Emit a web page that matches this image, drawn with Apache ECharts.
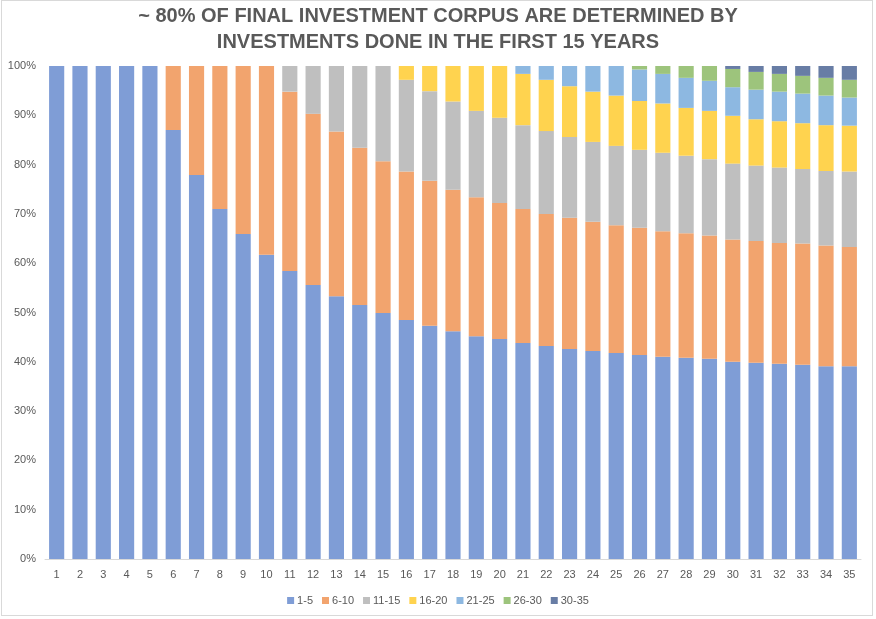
<!DOCTYPE html>
<html>
<head>
<meta charset="utf-8">
<script src="https://cdn.jsdelivr.net/npm/echarts@6/dist/echarts.min.js"></script>
<style>
html,body{margin:0;padding:0;background:#fff;}
#wrap{position:absolute;left:1px;top:0;width:872px;height:616px;border:1px solid #D9D9D9;box-sizing:border-box;}
#chart{position:absolute;left:0;top:0;width:876px;height:619px;}
</style>
</head>
<body>
<div id="wrap"></div>
<div id="chart"></div>
<script>
const years = ['1','2','3','4','5','6','7','8','9','10','11','12','13','14','15','16','17','18','19','20','21','22','23','24','25','26','27','28','29','30','31','32','33','34','35'];
const seriesNames = ['1-5','6-10','11-15','16-20','21-25','26-30','30-35'];
const s1_5   = [100,100,100,100,100,87.0,77.9,71.0,65.9,61.7,58.4,55.6,53.3,51.5,49.9,48.5,47.3,46.2,45.2,44.6,43.8,43.2,42.6,42.2,41.8,41.4,41.0,40.8,40.6,40.0,39.8,39.6,39.4,39.1,39.1];
const s6_10  = [0,0,0,0,0,13.0,22.1,29.0,34.1,38.3,36.4,34.7,33.4,31.9,30.8,30.1,29.4,28.7,28.2,27.6,27.2,26.8,26.6,26.2,25.9,25.8,25.5,25.3,25.0,24.8,24.7,24.5,24.6,24.5,24.2];
const s11_15 = [0,0,0,0,0,0,0,0,0,0,5.2,9.7,13.3,16.6,19.3,18.6,18.2,17.9,17.5,17.3,17.0,16.8,16.4,16.2,16.1,15.8,15.9,15.7,15.5,15.4,15.3,15.3,15.1,15.1,15.3];
const s16_20 = [0,0,0,0,0,0,0,0,0,0,0,0,0,0,0,2.8,5.1,7.2,9.1,10.5,10.4,10.4,10.3,10.2,10.2,9.9,10.0,9.7,9.8,9.7,9.4,9.4,9.3,9.3,9.3];
const s21_25 = [0,0,0,0,0,0,0,0,0,0,0,0,0,0,0,0,0,0,0,0,1.6,2.8,4.1,5.2,6.0,6.4,6.0,6.1,6.1,5.8,6.0,6.0,6.0,6.0,5.7];
const s26_30 = [0,0,0,0,0,0,0,0,0,0,0,0,0,0,0,0,0,0,0,0,0,0,0,0,0,0.7,1.6,2.4,3.0,3.7,3.6,3.6,3.6,3.6,3.6];
const s30_35 = [0,0,0,0,0,0,0,0,0,0,0,0,0,0,0,0,0,0,0,0,0,0,0,0,0,0,0,0,0,0.6,1.2,1.6,2.0,2.4,2.8];
const colors = ['#7F9DD6','#F2A46E','#BFBFBF','#FFD34F','#8DB8E1','#9DC47C','#687DA5'];
const values = [s1_5,s6_10,s11_15,s16_20,s21_25,s26_30,s30_35];

const chart = echarts.init(document.getElementById('chart'));
chart.setOption({
  animation:false,
  color: colors,
  title:{
    text:'~ 80% OF FINAL INVESTMENT CORPUS ARE DETERMINED BY\nINVESTMENTS DONE IN THE FIRST 15 YEARS',
    left:'center', top:-2,
    textStyle:{fontFamily:'Liberation Sans Narrow, Liberation Sans, Arial, sans-serif',fontSize:20,fontWeight:'bold',color:'#595959',lineHeight:26}
  },
  legend:{
    bottom:8, left:'center',
    itemWidth:7, itemHeight:7, itemGap:9,
    icon:'rect',
    textStyle:{fontFamily:'Liberation Sans, Arial, sans-serif',fontSize:11,color:'#595959',padding:[0,0,0,-2]},
    data: seriesNames
  },
  grid:{left:45,right:15,top:66,bottom:60,containLabel:false},
  xAxis:{
    type:'category', data:years,
    axisLine:{lineStyle:{color:'#D9D9D9'}},
    axisTick:{show:false},
    axisLabel:{color:'#595959',fontFamily:'Liberation Sans, Arial, sans-serif',fontSize:11,margin:10,interval:0}
  },
  yAxis:{
    type:'value', min:0, max:100, interval:10,
    axisLine:{show:false}, axisTick:{show:false},
    splitLine:{show:false},
    axisLabel:{formatter:'{value}%',color:'#595959',fontFamily:'Liberation Sans, Arial, sans-serif',fontSize:11,margin:9}
  },
  series: seriesNames.map((n,i)=>({
    name:n, type:'bar', stack:'total', data:values[i],
    barCategoryGap:'35%',
    itemStyle:{color:colors[i]}
  }))
});
</script>
</body>
</html>
